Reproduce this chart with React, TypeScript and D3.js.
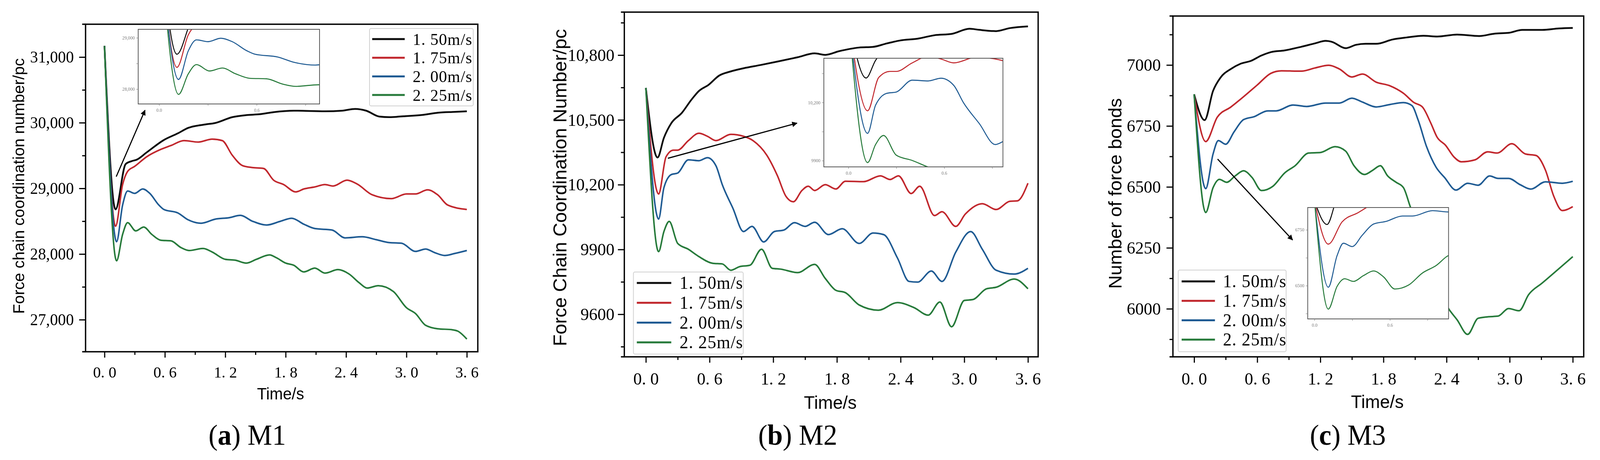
import { useEffect, useRef } from "react";
import * as d3 from "d3";

type Pt = [number, number];

const speedLabels = ["1. 50m/s", "1. 75m/s", "2. 00m/s", "2. 25m/s"];
const seriesColors = ["#0b0b0b", "#c1272d", "#1f5b93", "#267a3a"];

// (a) M1 — force chain coordination number
const m1Speed150: Pt[] = [[0,31170],[0.11,28680],[0.21,29370],[0.27,29415],[0.32,29437],[0.42,29549],[0.59,29737],[0.73,29839],[0.83,29920],[1.0,29973],[1.1,29996],[1.27,30085],[1.41,30116],[1.54,30129],[1.68,30161],[1.88,30183],[2.19,30174],[2.36,30183],[2.49,30210],[2.6,30183],[2.73,30094],[2.83,30085],[2.97,30098],[3.17,30121],[3.31,30152],[3.48,30165],[3.6,30174]];
const m1Speed175: Pt[] = [[0,31170],[0.11,28424],[0.18,29058],[0.23,29259],[0.3,29335],[0.42,29482],[0.56,29594],[0.66,29652],[0.79,29728],[0.93,29705],[1.07,29750],[1.17,29728],[1.27,29504],[1.37,29348],[1.47,29317],[1.58,29304],[1.68,29125],[1.78,29058],[1.9,28946],[1.98,28991],[2.09,29022],[2.19,29058],[2.27,29036],[2.41,29125],[2.51,29067],[2.66,28902],[2.85,28844],[3.0,28915],[3.09,28915],[3.21,28978],[3.31,28902],[3.41,28746],[3.6,28679]];
const m1Speed200: Pt[] = [[0,31170],[0.12,28188],[0.18,28746],[0.23,28960],[0.3,28924],[0.38,28991],[0.45,28924],[0.54,28746],[0.59,28679],[0.73,28625],[0.83,28522],[0.96,28469],[1.1,28531],[1.24,28554],[1.35,28589],[1.47,28500],[1.61,28442],[1.75,28500],[1.86,28545],[1.98,28455],[2.09,28388],[2.26,28366],[2.39,28246],[2.56,28263],[2.7,28219],[2.83,28174],[2.95,28165],[3.09,28040],[3.19,28076],[3.28,28022],[3.38,27978],[3.48,28009],[3.6,28054]];
const m1Speed225: Pt[] = [[0,31170],[0.12,27897],[0.18,28299],[0.23,28478],[0.31,28353],[0.39,28411],[0.47,28299],[0.56,28210],[0.66,28201],[0.76,28098],[0.84,28054],[0.98,28085],[1.07,28031],[1.2,27920],[1.3,27906],[1.41,27862],[1.51,27920],[1.64,27987],[1.71,27942],[1.8,27862],[1.88,27830],[1.98,27728],[2.09,27786],[2.19,27710],[2.32,27763],[2.43,27696],[2.53,27563],[2.61,27482],[2.72,27518],[2.87,27429],[3.0,27183],[3.09,27094],[3.19,26915],[3.31,26862],[3.45,26848],[3.51,26826],[3.6,26705]];

// (b) M2 — force chain coordination number
const m2Speed150: Pt[] = [[0,10648],[0.11,10326],[0.17,10417],[0.24,10485],[0.34,10533],[0.43,10594],[0.5,10634],[0.59,10662],[0.69,10705],[0.79,10723],[0.92,10739],[1.08,10754],[1.24,10770],[1.43,10790],[1.59,10808],[1.69,10801],[1.82,10818],[2.01,10835],[2.14,10838],[2.27,10854],[2.4,10868],[2.56,10876],[2.72,10892],[2.88,10898],[3.05,10922],[3.14,10917],[3.3,10911],[3.43,10925],[3.6,10933]];
const m2Speed175: Pt[] = [[0,10648],[0.12,10157],[0.19,10329],[0.26,10360],[0.3,10360],[0.4,10404],[0.5,10438],[0.58,10424],[0.66,10404],[0.8,10433],[0.92,10424],[1.01,10404],[1.14,10336],[1.24,10241],[1.32,10146],[1.39,10121],[1.47,10173],[1.53,10193],[1.59,10173],[1.69,10200],[1.79,10180],[1.88,10216],[2.05,10214],[2.21,10241],[2.3,10224],[2.38,10241],[2.5,10159],[2.58,10193],[2.72,10057],[2.79,10075],[2.92,10007],[3.01,10064],[3.17,10112],[3.3,10085],[3.43,10123],[3.5,10125],[3.6,10207]];
const m2Speed200: Pt[] = [[0,10648],[0.12,10041],[0.17,10186],[0.24,10247],[0.3,10254],[0.4,10315],[0.5,10311],[0.58,10325],[0.66,10288],[0.72,10200],[0.82,10091],[0.92,9983],[1.0,10007],[1.11,9935],[1.21,9983],[1.3,9990],[1.4,10024],[1.5,10007],[1.59,10026],[1.72,9969],[1.85,9996],[2.01,9928],[2.14,9976],[2.24,9969],[2.37,9861],[2.48,9752],[2.56,9749],[2.69,9800],[2.79,9752],[2.92,9888],[3.06,9983],[3.17,9901],[3.3,9804],[3.47,9786],[3.6,9813]];
const m2Speed225: Pt[] = [[0,10648],[0.12,9890],[0.17,9983],[0.22,10030],[0.3,9928],[0.4,9901],[0.5,9867],[0.63,9836],[0.72,9833],[0.8,9804],[0.88,9820],[0.98,9827],[1.09,9901],[1.19,9813],[1.27,9809],[1.43,9793],[1.59,9831],[1.69,9766],[1.79,9711],[1.88,9700],[2.01,9643],[2.19,9619],[2.37,9654],[2.53,9630],[2.66,9596],[2.77,9657],[2.88,9542],[3.0,9664],[3.08,9668],[3.21,9718],[3.3,9725],[3.47,9763],[3.6,9718]];

// (c) M3 — number of force bonds
const m3Speed150: Pt[] = [[0,6880],[0.1,6774],[0.18,6894],[0.25,6948],[0.35,6984],[0.44,7005],[0.54,7017],[0.64,7039],[0.73,7053],[0.86,7060],[1.02,7075],[1.15,7089],[1.25,7099],[1.31,7095],[1.44,7069],[1.54,7083],[1.63,7087],[1.73,7087],[1.89,7105],[2.02,7113],[2.18,7120],[2.31,7117],[2.5,7125],[2.71,7119],[2.86,7129],[2.99,7132],[3.12,7144],[3.31,7144],[3.47,7150],[3.6,7152]];
const m3Speed175: Pt[] = [[0,6880],[0.11,6686],[0.22,6786],[0.35,6828],[0.47,6870],[0.6,6918],[0.73,6966],[0.83,6976],[1.02,6975],[1.15,6988],[1.28,6999],[1.38,6984],[1.5,6951],[1.6,6963],[1.73,6930],[1.86,6915],[1.99,6884],[2.09,6846],[2.17,6828],[2.25,6762],[2.31,6704],[2.39,6671],[2.47,6623],[2.54,6603],[2.67,6611],[2.79,6644],[2.88,6639],[3.02,6677],[3.15,6635],[3.25,6629],[3.34,6569],[3.42,6461],[3.5,6403],[3.6,6419]];
const m3Speed200: Pt[] = [[0,6880],[0.11,6493],[0.18,6635],[0.23,6690],[0.3,6675],[0.38,6726],[0.47,6776],[0.57,6788],[0.7,6812],[0.78,6812],[0.94,6836],[1.07,6830],[1.25,6844],[1.38,6844],[1.5,6864],[1.6,6848],[1.73,6828],[1.86,6838],[1.99,6846],[2.07,6834],[2.13,6774],[2.21,6665],[2.3,6581],[2.38,6539],[2.49,6487],[2.6,6515],[2.7,6507],[2.81,6545],[2.89,6535],[2.99,6535],[3.1,6509],[3.2,6491],[3.34,6521],[3.5,6515],[3.6,6523]];
const m3Speed225: Pt[] = [[0,6880],[0.11,6395],[0.18,6497],[0.24,6531],[0.31,6519],[0.39,6545],[0.47,6566],[0.55,6539],[0.64,6485],[0.75,6503],[0.86,6557],[0.96,6587],[1.09,6639],[1.2,6641],[1.34,6665],[1.44,6647],[1.52,6587],[1.62,6551],[1.7,6569],[1.77,6587],[1.84,6545],[1.92,6519],[1.99,6497],[2.05,6425],[2.15,6290],[2.28,6120],[2.42,6000],[2.5,5955],[2.6,5895],[2.7,5961],[2.79,5967],[2.89,5970],[2.99,6001],[3.09,5992],[3.18,6058],[3.31,6106],[3.44,6154],[3.6,6214]];

// ticks
const xMajorTicks = [0, 0.6, 1.2, 1.8, 2.4, 3.0, 3.6];
const xMinorTicks = [0.3, 0.9, 1.5, 2.1, 2.7, 3.3];
const insetXTicks = [0, 0.6];
const insetXMinor = [0.3, 0.9];
const m1YTicks = [27000, 28000, 29000, 30000, 31000];
const m1YMinor = [27500, 28500, 29500, 30500];
const m2YTicks = [9600, 9900, 10200, 10500, 10800];
const m2YMinor = [9450, 9750, 10050, 10350, 10650, 10950];
const m3YTicks = [6000, 6250, 6500, 6750, 7000];
const m3YMinor = [5875, 6125, 6375, 6625, 6875, 7125];

const W = 4226;
const H = 1177;

const panels = [
  {
    id: "m1",
    series: [m1Speed150, m1Speed175, m1Speed200, m1Speed225],
    frame: { left: 226, right: 1262, top: 62, bottom: 900 },
    xDomain: [-0.188, 3.709], yDomain: [26512, 31500],
    yTicks: m1YTicks, yMinor: m1YMinor, yPad: 14, yTickFont: 42,
    xTickFont: 41, xPad: 22,
    yTitle: "Force chain coordination number/pc", yTitleX: 50, yTitleY: 476, yTitleSize: 41,
    xTitleX: 741, xTitleY: 1022, xTitleSize: 42,
    caption: ["a", "M1"], captionX: 653,
    legend: { x: 976, y: 73, w: 274, h: 198, row0: 100, step: 47.7, lx0: 983, lx1: 1069, tx: 1090, font: 43 },
    inset: { left: 365, right: 844, top: 75, bottom: 266, xDomain: [-0.128, 0.986], yDomain: [27711, 29165], yTicks: [28000, 29000], yMinor: [28500] },
    arrow: [[307, 452], [383, 282]],
  },
  {
    id: "m2",
    series: [m2Speed150, m2Speed175, m2Speed200, m2Speed225],
    frame: { left: 1649, right: 2742, top: 31, bottom: 913 },
    xDomain: [-0.203, 3.696], yDomain: [9403, 10999],
    yTicks: m2YTicks, yMinor: m2YMinor, yPad: 9, yTickFont: 45,
    xTickFont: 45, xPad: 24,
    yTitle: "Force Chain Coordination Number/pc", yTitleX: 1479, yTitleY: 480, yTitleSize: 49,
    xTitleX: 2193, xTitleY: 1046, xTitleSize: 47,
    caption: ["b", "M2"], captionX: 2107,
    legend: { x: 1673, y: 696, w: 290, h: 210, row0: 724, step: 50.7, lx0: 1682, lx1: 1773, tx: 1795, font: 46 },
    inset: { left: 2176, right: 2649, top: 149, bottom: 427, xDomain: [-0.154, 0.968], yDomain: [9868, 10428], yTicks: [9900, 10200], yMinor: [10050, 10350] },
    arrow: [[1764, 405], [2105, 315]],
  },
  {
    id: "m3",
    series: [m3Speed150, m3Speed175, m3Speed200, m3Speed225],
    frame: { left: 3098, right: 4183, top: 41, bottom: 913 },
    xDomain: [-0.2016, 3.704], yDomain: [5803, 7201],
    yTicks: m3YTicks, yMinor: m3YMinor, yPad: 15, yTickFont: 45,
    xTickFont: 45, xPad: 24,
    yTitle: "Number of force bonds", yTitleX: 2945, yTitleY: 495, yTitleSize: 48,
    xTitleX: 3638, xTitleY: 1044, xTitleSize: 47,
    caption: ["c", "M3"], captionX: 3560,
    legend: { x: 3112, y: 691, w: 285, h: 209, row0: 720, step: 49.7, lx0: 3121, lx1: 3209, tx: 3230, font: 46 },
    inset: { left: 3454, right: 3826, top: 531, bottom: 816, xDomain: [-0.054, 1.067], yDomain: [6351, 6850], yTicks: [6500, 6750], yMinor: [6375, 6625] },
    arrow: [[3216, 407], [3414, 614]],
  },
];

const SERIF = "'Liberation Serif', 'Times New Roman', serif";
const SANS = "'Liberation Sans', Arial, sans-serif";

const fmtY = (v: number) => (v >= 10000 ? d3.format(",")(v) : String(v));
const fmtX = (v: number) => v.toFixed(1).replace(".", ". ");

const drawPanel = (root: any, p: any) => {
  const g = root.append("g").attr("class", p.id);
  const { left, right, top, bottom } = p.frame;
  const x = d3.scaleLinear().domain(p.xDomain).range([left, right]);
  const y = d3.scaleLinear().domain(p.yDomain).range([bottom, top]);

  const line = d3
    .line<Pt>()
    .x((d) => x(d[0]))
    .y((d) => y(d[1]))
    .curve(d3.curveMonotoneX);

  p.series.forEach((s: Pt[], i: number) => {
    g.append("path")
      .attr("d", line(s))
      .attr("fill", "none")
      .attr("stroke", seriesColors[i])
      .attr("stroke-width", i === 0 ? 4.5 : 4)
      .attr("stroke-linejoin", "round");
  });

  // axes
  const yAxis = g.append("g").attr("transform", `translate(${left},0)`)
    .call(d3.axisLeft(y).tickValues(p.yTicks).tickSize(17).tickPadding(p.yPad).tickFormat(fmtY as any));
  yAxis.select(".domain").remove();
  yAxis.attr("font-family", SERIF).attr("font-size", p.yTickFont);
  yAxis.selectAll("line").attr("stroke-width", 3);

  const yMinor = g.append("g").attr("transform", `translate(${left},0)`)
    .call(d3.axisLeft(y).tickValues(p.yMinor).tickSize(9).tickFormat(() => ""));
  yMinor.select(".domain").remove();
  yMinor.selectAll("line").attr("stroke-width", 3);

  const xAxis = g.append("g").attr("transform", `translate(0,${bottom})`)
    .call(d3.axisBottom(x).tickValues(xMajorTicks).tickSize(15).tickPadding(p.xPad).tickFormat(fmtX as any));
  xAxis.select(".domain").remove();
  xAxis.attr("font-family", SERIF).attr("font-size", p.xTickFont);
  xAxis.selectAll("line").attr("stroke-width", 3);
  xAxis.selectAll("text").style("white-space", "pre");

  const xMinor = g.append("g").attr("transform", `translate(0,${bottom})`)
    .call(d3.axisBottom(x).tickValues(xMinorTicks).tickSize(8).tickFormat(() => ""));
  xMinor.select(".domain").remove();
  xMinor.selectAll("line").attr("stroke-width", 3);

  // frame
  g.append("rect")
    .attr("x", left).attr("y", top)
    .attr("width", right - left).attr("height", bottom - top)
    .attr("fill", "none").attr("stroke", "#000").attr("stroke-width", 3.5);
  [top, bottom].forEach((yy) =>
    g.append("line").attr("x1", left - 9).attr("x2", left).attr("y1", yy).attr("y2", yy)
      .attr("stroke", "#000").attr("stroke-width", 3.5));

  // titles
  g.append("text")
    .attr("transform", `translate(${p.yTitleX},${p.yTitleY}) rotate(-90)`)
    .attr("text-anchor", "middle").attr("dominant-baseline", "central")
    .attr("font-family", SANS).attr("font-size", p.yTitleSize)
    .text(p.yTitle);
  g.append("text")
    .attr("x", p.xTitleX).attr("y", p.xTitleY)
    .attr("text-anchor", "middle")
    .attr("font-family", SANS).attr("font-size", p.xTitleSize)
    .text("Time/s");

  const cap = g.append("text")
    .attr("x", p.captionX).attr("y", 1138)
    .attr("text-anchor", "middle")
    .attr("font-family", SERIF).attr("font-size", 73);
  cap.append("tspan").text("(");
  cap.append("tspan").attr("font-weight", "bold").text(p.caption[0]);
  cap.append("tspan").text(") " + p.caption[1]);

  // inset
  const ins = p.inset;
  const ix = d3.scaleLinear().domain(ins.xDomain).range([ins.left, ins.right]);
  const iy = d3.scaleLinear().domain(ins.yDomain).range([ins.bottom, ins.top]);
  const clipId = `clip-${p.id}`;
  g.append("clipPath").attr("id", clipId).append("rect")
    .attr("x", ins.left).attr("y", ins.top)
    .attr("width", ins.right - ins.left).attr("height", ins.bottom - ins.top);
  g.append("rect")
    .attr("x", ins.left).attr("y", ins.top)
    .attr("width", ins.right - ins.left).attr("height", ins.bottom - ins.top)
    .attr("fill", "#fff");
  const iline = d3.line<Pt>().x((d) => ix(d[0])).y((d) => iy(d[1])).curve(d3.curveMonotoneX);
  const il = g.append("g").attr("clip-path", `url(#${clipId})`);
  p.series.forEach((s: Pt[], i: number) => {
    il.append("path").attr("d", iline(s)).attr("fill", "none")
      .attr("stroke", seriesColors[i]).attr("stroke-width", 2.6);
  });
  g.append("rect")
    .attr("x", ins.left).attr("y", ins.top)
    .attr("width", ins.right - ins.left).attr("height", ins.bottom - ins.top)
    .attr("fill", "none").attr("stroke", "#555").attr("stroke-width", 2);

  const iyAxis = g.append("g").attr("transform", `translate(${ins.left},0)`)
    .call(d3.axisLeft(iy).tickValues([...ins.yTicks, ...ins.yMinor]).tickSize(5).tickPadding(4)
      .tickFormat(((v: number) => (ins.yTicks.includes(v) ? fmtY(v) : "")) as any));
  iyAxis.select(".domain").remove();
  iyAxis.attr("font-family", SERIF).attr("font-size", 12).attr("color", "#777");
  const ixAxis = g.append("g").attr("transform", `translate(0,${ins.bottom})`)
    .call(d3.axisBottom(ix).tickValues([...insetXTicks, ...insetXMinor]).tickSize(5).tickPadding(6)
      .tickFormat(((v: number) => (insetXTicks.includes(v) ? v.toFixed(1) : "")) as any));
  ixAxis.select(".domain").remove();
  ixAxis.attr("font-family", SERIF).attr("font-size", 12).attr("color", "#777");

  // arrow
  g.append("line")
    .attr("x1", p.arrow[0][0]).attr("y1", p.arrow[0][1])
    .attr("x2", p.arrow[1][0]).attr("y2", p.arrow[1][1])
    .attr("stroke", "#000").attr("stroke-width", 3)
    .attr("marker-end", "url(#arrowHead)");

  // legend
  const lg = p.legend;
  g.append("rect")
    .attr("x", lg.x).attr("y", lg.y).attr("width", lg.w).attr("height", lg.h)
    .attr("rx", 4).attr("fill", "#fff").attr("stroke", "#d0d0d0").attr("stroke-width", 2);
  speedLabels.forEach((lab, i) => {
    const yy = lg.row0 + i * lg.step;
    g.append("line").attr("x1", lg.lx0).attr("x2", lg.lx1).attr("y1", yy).attr("y2", yy)
      .attr("stroke", seriesColors[i]).attr("stroke-width", 5);
    g.append("text").attr("x", lg.tx).attr("y", yy)
      .attr("dominant-baseline", "central")
      .attr("font-family", SERIF).attr("font-size", lg.font)
      .attr("letter-spacing", 1.2)
      .style("white-space", "pre")
      .text(lab);
  });
};

export default function App() {
  const ref = useRef<SVGSVGElement | null>(null);

  useEffect(() => {
    document.body.style.margin = "0";
    document.body.style.overflow = "hidden";
    const svg = d3.select(ref.current);
    svg.selectAll("*").remove();

    svg.append("rect").attr("width", W).attr("height", H).attr("fill", "#fff");
    svg.append("defs").append("marker")
      .attr("id", "arrowHead")
      .attr("markerUnits", "userSpaceOnUse")
      .attr("viewBox", "0 0 10 10")
      .attr("refX", 9).attr("refY", 5)
      .attr("markerWidth", 18).attr("markerHeight", 14)
      .attr("orient", "auto")
      .append("path").attr("d", "M0,0 L10,5 L0,10 Z").attr("fill", "#000");

    panels.forEach((p) => drawPanel(svg, p));
  }, []);

  return (
    <svg
      ref={ref}
      viewBox={`0 0 ${W} ${H}`}
      preserveAspectRatio="none"
      style={{ position: "fixed", left: 0, top: 0, width: "100vw", height: "100vh", display: "block" }}
    />
  );
}
